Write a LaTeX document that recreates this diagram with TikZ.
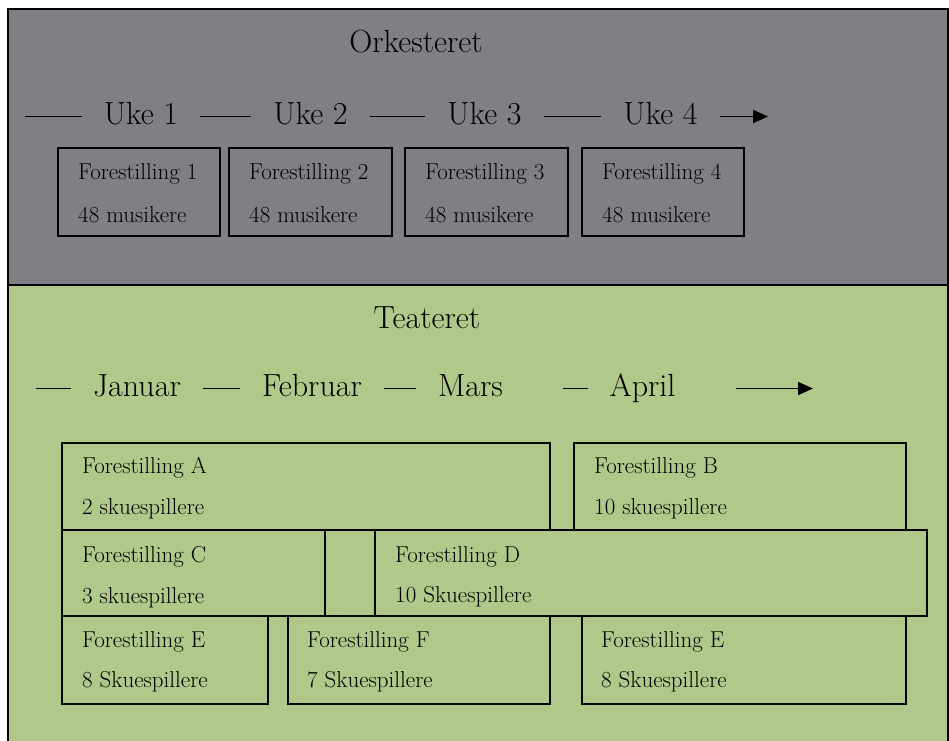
\documentclass[tikz,border=0pt]{standalone}
\usepackage{fontspec}
\usetikzlibrary{arrows.meta}
\definecolor{orkgray}{RGB}{128,127,132}
\definecolor{teagreen}{RGB}{177,200,139}
\tikzset{
  frame/.style={draw, line width=2pt},
  box/.style={draw, line width=2pt, inner sep=0pt, anchor=north west},
  title/.style={font=\fontsize{32}{36}\selectfont, anchor=base, inner sep=0pt},
  period/.style={font=\fontsize{32}{36}\selectfont, inner sep=0pt, outer xsep=22pt,
    text height=22pt, text depth=7pt},
  info/.style={font=\fontsize{23}{27}\selectfont, anchor=base west, inner sep=0pt},
  tick/.style={line width=1.8pt},
  pointer/.style={line width=1.8pt, -{Triangle[length=15pt,width=13pt]}}
}
\begin{document}
\begin{tikzpicture}[x=1pt,y=-1pt]
      \clip (0,0) rectangle (949,740);
      \draw[frame, fill=orkgray] (8,9) rectangle (948,285);
      \draw[frame, fill=teagreen] (8,285) rectangle (948,760);
      % orkesteret
      \node[title] (ork) at (416,52) {Orkesteret};
      \node[period] (u1) at (141,116.5) {Uke 1};
      \node[period] (u2) at (310.5,116.5) {Uke 2};
      \node[period] (u3) at (484.5,116.5) {Uke 3};
      \node[period] (u4) at (660.5,116.5) {Uke 4};
      \coordinate (ustart) at (25,116.5);
      \coordinate (uend) at (768,116.5);
      \begin{scope}[tick]
        \draw (ustart) to (u1);
        \draw (u1) to (u2);
        \draw (u2) to (u3);
        \draw (u3) to (u4);
      \end{scope}
      \draw[pointer] (u4) to (uend);
      \node[box, minimum width=162pt, minimum height=88pt] (f1) at (57,147) {};
      \node[box, minimum width=163pt, minimum height=88pt] (f2) at (228,147) {};
      \node[box, minimum width=163pt, minimum height=88pt] (f3) at (404,147) {};
      \node[box, minimum width=162pt, minimum height=88pt] (f4) at (581,147) {};
      \node[info] (f1a) at (78,179) {Forestilling 1};
      \node[info] (f1b) at (78,222) {48 musikere};
      \node[info] (f2a) at (249,179) {Forestilling 2};
      \node[info] (f2b) at (249,222) {48 musikere};
      \node[info] (f3a) at (425,179) {Forestilling 3};
      \node[info] (f3b) at (425,222) {48 musikere};
      \node[info] (f4a) at (602,179) {Forestilling 4};
      \node[info] (f4b) at (602,222) {48 musikere};
      % teateret
      \node[title] (tea) at (427,328) {Teateret};
      \node[period] (jan) at (137,388.5) {Januar};
      \node[period] (feb) at (312,388.5) {Februar};
      \node[period] (mar) at (470.5,388.5) {Mars};
      \node[period] (apr) at (642.5,388.5) {April};
      \coordinate (mstart) at (36,388.5);
      \coordinate (mgap) at (563,388.5);
      \coordinate (astart) at (736,388.5);
      \coordinate (aend) at (813,388.5);
      \begin{scope}[tick]
        \draw (mstart) to (jan);
        \draw (jan) to (feb);
        \draw (feb) to (mar);
        \draw (mgap) to (apr);
      \end{scope}
      \draw[pointer] (astart) to (aend);
      \node[box, minimum width=488pt, minimum height=87pt] (fA) at (61,442) {};
      \node[box, minimum width=332pt, minimum height=87pt] (fB) at (573,442) {};
      \node[box, minimum width=263pt, minimum height=86pt] (fC) at (61,529) {};
      \node[box, minimum width=552pt, minimum height=86pt] (fD) at (374,529) {};
      \node[box, minimum width=206pt, minimum height=88pt] (fE) at (61,615) {};
      \node[box, minimum width=262pt, minimum height=88pt] (fF) at (287,615) {};
      \node[box, minimum width=324pt, minimum height=88pt] (fE2) at (581,615) {};
      \node[info] (fAa) at (82,473) {Forestilling A};
      \node[info] (fAb) at (82,514) {2 skuespillere};
      \node[info] (fBa) at (594,473) {Forestilling B};
      \node[info] (fBb) at (594,514) {10 skuespillere};
      \node[info] (fCa) at (82,562) {Forestilling C};
      \node[info] (fCb) at (82,603) {3 skuespillere};
      \node[info] (fDa) at (395,562) {Forestilling D};
      \node[info] (fDb) at (395,602) {10 Skuespillere};
      \node[info] (fEa) at (82,647) {Forestilling E};
      \node[info] (fEb) at (82,687) {8 Skuespillere};
      \node[info] (fFa) at (307,647) {Forestilling F};
      \node[info] (fFb) at (307,687) {7 Skuespillere};
      \node[info] (fE2a) at (601,647) {Forestilling E};
      \node[info] (fE2b) at (601,687) {8 Skuespillere};
    \end{tikzpicture}
\end{document}
